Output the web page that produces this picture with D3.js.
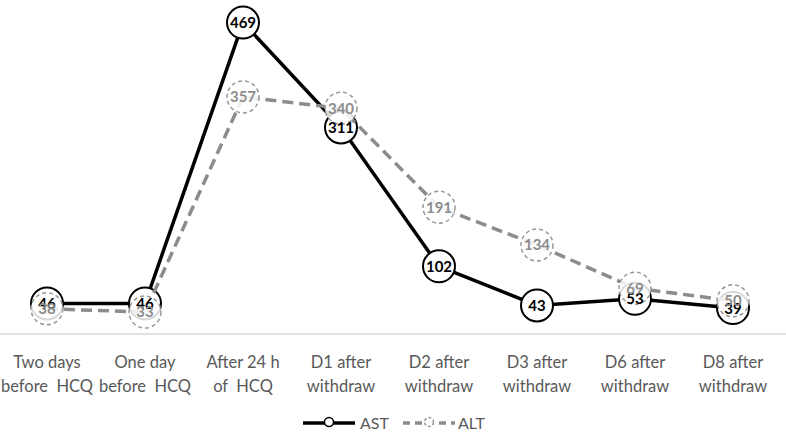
<!DOCTYPE html>
<html>
<head>
<meta charset="utf-8">
<script src="https://cdn.jsdelivr.net/npm/d3@7"></script>
<style>
  body { margin: 0; background: #fff; }
  svg text { font-family: Lato, "Open Sans", sans-serif; white-space: pre; }
</style>
</head>
<body>
<div id="chart-area"></div>
<script>
// categories (two lines each)
var categories = [
  ["Two days", "before  HCQ"],
  ["One day", "before  HCQ"],
  ["After 24 h", "of  HCQ"],
  ["D1 after", "withdraw"],
  ["D2 after", "withdraw"],
  ["D3 after", "withdraw"],
  ["D6 after", "withdraw"],
  ["D8 after", "withdraw"]
];
var astValues = [46, 46, 469, 311, 102, 43, 53, 39];
var altValues = [38, 33, 357, 340, 191, 134, 69, 50];
var seriesNames = ["AST", "ALT"];

var width = 786, height = 435;
var svg = d3.select("#chart-area").append("svg")
  .attr("width", width).attr("height", height);

// X scale
var x = d3.scaleBand()
  .domain(d3.range(categories.length))
  .range([-2, 782]);

// Y scale
var y = d3.scaleLinear()
  .domain([0, 500])
  .range([334, 2]);

var cx = function(i) { return x(i) + x.bandwidth() / 2; };

// axis line
svg.append("line")
  .attr("x1", 0).attr("x2", width)
  .attr("y1", y(0)).attr("y2", y(0))
  .attr("stroke", "#d9d9d9").attr("stroke-width", 1.5);

// category labels
var xl = svg.selectAll(".xlabel").data(categories).enter()
  .append("text")
    .attr("class", "xlabel")
    .attr("text-anchor", "middle")
    .attr("font-size", "16.5px")
    .attr("fill", "#595959");
xl.append("tspan").attr("x", function(d, i) { return cx(i); }).attr("y", 368).text(function(d) { return d[0]; });
xl.append("tspan").attr("x", function(d, i) { return cx(i); }).attr("y", 392).text(function(d) { return d[1]; });

var line = d3.line()
  .x(function(d, i) { return cx(i); })
  .y(function(d) { return y(d); });

// AST line + markers
svg.append("path").datum(astValues)
  .attr("d", line).attr("fill", "none")
  .attr("stroke", "#000").attr("stroke-width", 3.5);
svg.selectAll(".astdot").data(astValues).enter()
  .append("circle").attr("class", "astdot")
    .attr("cx", function(d, i) { return cx(i); })
    .attr("cy", function(d) { return y(d); })
    .attr("r", 16)
    .attr("fill", "#fff").attr("stroke", "#000").attr("stroke-width", 2);

// ALT line + markers
svg.append("path").datum(altValues)
  .attr("d", line).attr("fill", "none")
  .attr("stroke", "#8c8c8c").attr("stroke-width", 3.5)
  .attr("stroke-dasharray", "11,6");
svg.selectAll(".altdot").data(altValues).enter()
  .append("circle").attr("class", "altdot")
    .attr("cx", function(d, i) { return cx(i); })
    .attr("cy", function(d) { return y(d); })
    .attr("r", 16)
    .attr("fill", "#fff").attr("fill-opacity", 0.85)
    .attr("stroke", "#999").attr("stroke-width", 1.5)
    .attr("stroke-dasharray", "4,3");

// data labels
svg.selectAll(".astlab").data(astValues).enter()
  .append("text").attr("class", "astlab")
    .attr("x", function(d, i) { return cx(i); })
    .attr("y", function(d) { return y(d); })
    .attr("dy", "0.36em")
    .attr("text-anchor", "middle")
    .attr("font-size", "15px").attr("font-weight", "bold")
    .attr("fill", "#000")
    .text(function(d) { return d; });
svg.selectAll(".altlab").data(altValues).enter()
  .append("text").attr("class", "altlab")
    .attr("x", function(d, i) { return cx(i); })
    .attr("y", function(d) { return y(d); })
    .attr("dy", "0.36em")
    .attr("text-anchor", "middle")
    .attr("font-size", "15px").attr("font-weight", "bold")
    .attr("fill", "#8c8c8c")
    .text(function(d) { return d; });

// legend
var lg = svg.append("g").attr("transform", "translate(0,423)");
lg.append("line").attr("x1", 303).attr("x2", 355).attr("y1", 0).attr("y2", 0)
  .attr("stroke", "#000").attr("stroke-width", 3.5);
lg.append("circle").attr("cx", 329).attr("cy", -1).attr("r", 4.5)
  .attr("fill", "#fff").attr("stroke", "#000").attr("stroke-width", 1.5);
lg.append("text").attr("x", 360).attr("y", 6).attr("font-size", "16px")
  .attr("fill", "#595959").text(seriesNames[0]);
lg.append("line").attr("x1", 403).attr("x2", 455).attr("y1", 0).attr("y2", 0)
  .attr("stroke", "#8c8c8c").attr("stroke-width", 3.5).attr("stroke-dasharray", "7,5");
lg.append("circle").attr("cx", 429).attr("cy", -1).attr("r", 4.5)
  .attr("fill", "#fff").attr("stroke", "#999").attr("stroke-width", 1.5)
  .attr("stroke-dasharray", "3,2");
lg.append("text").attr("x", 458).attr("y", 6).attr("font-size", "16px")
  .attr("fill", "#595959").text(seriesNames[1]);
</script>
</body>
</html>
